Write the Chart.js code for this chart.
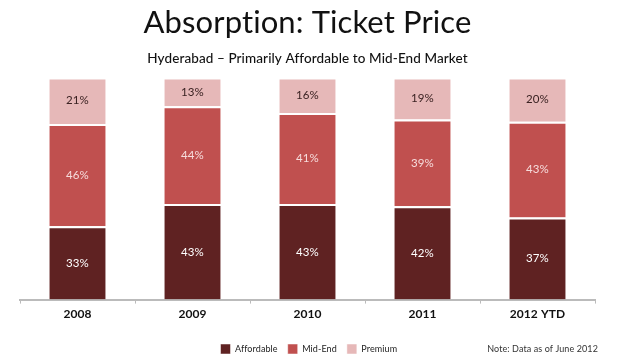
<!DOCTYPE html>
<html>
<head>
<meta charset="utf-8">
<script src="https://cdn.jsdelivr.net/npm/chart.js@4"></script>
<style>
  html, body { margin: 0; padding: 0; background: #fff; }
  #wrap { width: 620px; height: 364px; position: relative; }
</style>
</head>
<body>
<div id="wrap"><canvas id="chart"></canvas></div>
<script>
var years = ["2008", "2009", "2010", "2011", "2012 YTD"];
var affordable = [33, 43, 43, 42, 37];
var midEnd = [46, 44, 41, 39, 43];
var premium = [21, 13, 16, 19, 20];

var labelColors = ["#ffffff", "#f6dcdc", "#3a2222"];

// small letter spacing so "ti" is not drawn as a ligature
var spacing = {
    id: 'spacing',
    beforeDraw: function (chart) {
        chart.ctx.letterSpacing = "0.1px";
    }
};

// draws the % value in the middle of every segment
var segmentLabels = {
    id: 'segmentLabels',
    afterDatasetsDraw: function (chart) {
        var ctx = chart.ctx;
        ctx.save();
        ctx.font = "11.5px Lato";
        ctx.textAlign = "center";
        ctx.textBaseline = "middle";
        chart.data.datasets.forEach(function (ds, i) {
            var meta = chart.getDatasetMeta(i);
            meta.data.forEach(function (bar, j) {
                var p = bar.getProps(['x', 'y', 'base'], true);
                ctx.fillStyle = labelColors[i];
                ctx.fillText(ds.data[j] + "%", p.x, (p.y + p.base) / 2);
            });
        });
        ctx.restore();
    }
};

var note = {
    id: 'note',
    afterDraw: function (chart) {
        var ctx = chart.ctx;
        ctx.save();
        ctx.font = "9px Lato";
        ctx.fillStyle = "#333";
        ctx.textAlign = "right";
        ctx.textBaseline = "middle";
        ctx.fillText("Note: Data as of June 2012", 598, 349);
        ctx.restore();
    }
};

window.onload = function () {
    var ctx = document.getElementById('chart').getContext('2d');
    window.theChart = new Chart(ctx, {
        type: 'bar',
        data: {
            labels: years,
            datasets: [
                { label: "Affordable", data: affordable, backgroundColor: "#5f2222" },
                { label: "Mid-End", data: midEnd, backgroundColor: "#c0504f" },
                { label: "Premium", data: premium, backgroundColor: "#e6b8b8" }
            ]
        },
        options: {
            responsive: true,
            maintainAspectRatio: false,
            animation: false,
            datasets: {
                bar: {
                    categoryPercentage: 1,
                    barPercentage: 0.49,
                    borderColor: "#ffffff",
                    borderWidth: { top: 2, bottom: 0, left: 0, right: 0 },
                    borderSkipped: false
                }
            },
            layout: { padding: { left: 20, right: 25, top: 0, bottom: 0 } },
            plugins: {
                title: {
                    display: true,
                    text: "Absorption: Ticket Price",
                    color: "#111",
                    font: { family: "Lato", size: 31, weight: 'normal' },
                    padding: { top: 4, bottom: 9 }
                },
                subtitle: {
                    display: true,
                    text: "Hyderabad \u2013 Primarily Affordable to Mid-End Market",
                    color: "#111",
                    font: { family: "Lato", size: 13.5, weight: '500' },
                    padding: { top: 0, bottom: 11 }
                },
                legend: {
                    position: 'bottom',
                    labels: {
                        boxWidth: 10,
                        boxHeight: 10,
                        color: "#222",
                        font: { family: "Lato", size: 9 },
                        padding: 10
                    }
                },
                tooltip: { enabled: false }
            },
            scales: {
                x: {
                    stacked: true,
                    afterFit: function (axis) { axis.height += 10; },
                    grid: {
                        display: true,
                        drawOnChartArea: false,
                        drawTicks: true,
                        tickLength: 4,
                        offset: true,
                        color: "#bbbbbb"
                    },
                    border: { display: true, color: "#bbbbbb", width: 2 },
                    ticks: {
                        color: "#111",
                        font: { family: "Lato", size: 12, weight: 'bold' },
                        padding: 3
                    }
                },
                y: {
                    stacked: true,
                    display: false,
                    min: 0,
                    max: 100
                }
            }
        },
        plugins: [spacing, segmentLabels, note]
    });
};
</script>
</body>
</html>
